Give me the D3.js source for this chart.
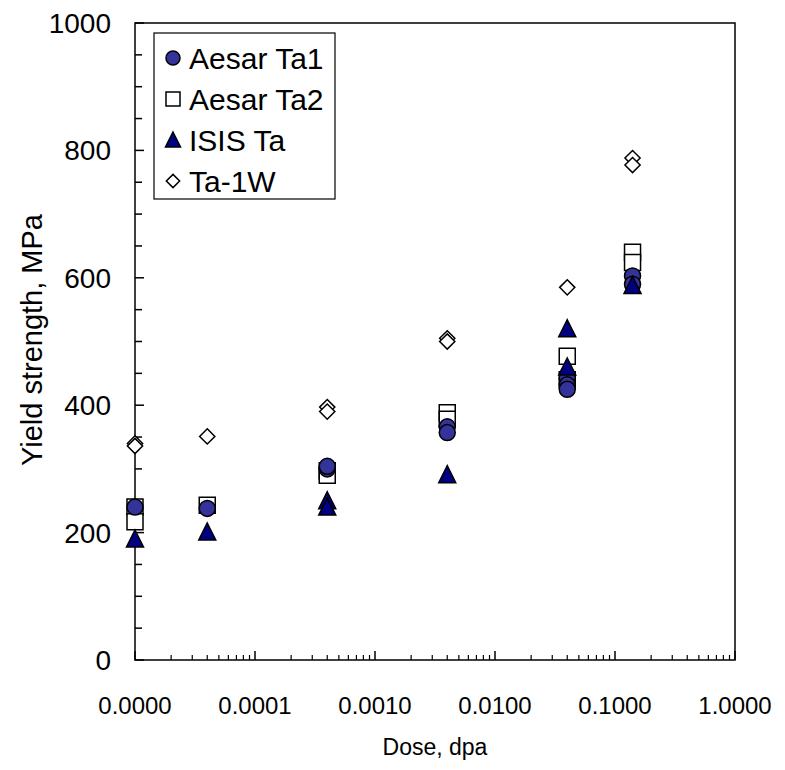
<!DOCTYPE html>
<html>
<head>
<meta charset="utf-8">
<script src="https://cdn.jsdelivr.net/npm/d3@7"></script>
<style>
  html, body { margin: 0; padding: 0; background: #fff; }
  svg { display: block; font-family: "Liberation Sans", Arial, sans-serif; }
</style>
</head>
<body>
<svg id="chart" width="785" height="770"></svg>
<script>
// Dose (dpa); unirradiated specimens are plotted at the 1e-5 axis origin
const aesarTa1Dose = [1e-5, 4e-5, 4e-4, 4e-4, 4e-3, 4e-3, 0.04, 0.04, 0.04, 0.14, 0.14];
const aesarTa1YS   = [240, 238, 300, 304, 366, 357, 442, 432, 425, 603, 590];

const aesarTa2Dose = [1e-5, 1e-5, 4e-5, 4e-4, 4e-4, 4e-3, 4e-3, 0.04, 0.04, 0.14, 0.14];
const aesarTa2YS   = [240, 217, 243, 297, 290, 388, 378, 477, 440, 640, 624];

const isisDose = [1e-5, 4e-5, 4e-4, 4e-4, 4e-3, 0.04, 0.04, 0.14];
const isisYS   = [190, 201, 250, 240, 291, 520, 460, 588];

const ta1wDose = [1e-5, 1e-5, 4e-5, 4e-4, 4e-4, 4e-3, 4e-3, 0.04, 0.14, 0.14];
const ta1wYS   = [340, 336, 351, 397, 390, 505, 500, 585, 788, 777];

const xTickValues = [1e-5, 1e-4, 1e-3, 1e-2, 1e-1, 1];
const xTickLabels = ["0.0000", "0.0001", "0.0010", "0.0100", "0.1000", "1.0000"];
const yTickValues = [0, 200, 400, 600, 800, 1000];

const seriesNames = ["Aesar Ta1", "Aesar Ta2", "ISIS Ta", "Ta-1W"];

const svg = d3.select("#chart");
const margin = { left: 135, right: 50, top: 23, bottom: 110 };
const W = 785, H = 770;

const x = d3.scaleLog().domain([1e-5, 1]).range([margin.left, W - margin.right]);
const y = d3.scaleLinear().domain([0, 1000]).range([H - margin.bottom, margin.top]);

const g = svg.append("g");

// frame
g.append("rect")
  .attr("x", x(1e-5)).attr("y", y(1000))
  .attr("width", x(1) - x(1e-5)).attr("height", y(0) - y(1000))
  .attr("fill", "none").attr("stroke", "#000").attr("stroke-width", 1.5);

// y axis: inward ticks, every 50 minor, labelled every 200
const yMinor = d3.range(0, 1001, 50);
g.selectAll(".ytick").data(yMinor).join("line")
  .attr("x1", x(1e-5)).attr("x2", d => x(1e-5) + (d % 200 === 0 ? 9 : 7))
  .attr("y1", d => y(d)).attr("y2", d => y(d))
  .attr("stroke", "#000").attr("stroke-width", 1.5);

g.selectAll(".ylab").data(yTickValues).join("text")
  .attr("x", 111).attr("y", d => y(d))
  .attr("dy", "0.36em").attr("text-anchor", "end")
  .attr("font-size", 28).attr("fill", "#000")
  .text(d => d);

// x axis: log scale, inward ticks
const xMinor = [];
for (let e = -5; e < 0; e++) {
  for (let m = 2; m <= 9; m++) xMinor.push(m * Math.pow(10, e));
}
g.selectAll(".xminor").data(xMinor).join("line")
  .attr("x1", d => x(d)).attr("x2", d => x(d))
  .attr("y1", y(0)).attr("y2", y(0) - 5)
  .attr("stroke", "#000").attr("stroke-width", 1.2);
g.selectAll(".xmajor").data(xTickValues).join("line")
  .attr("x1", d => x(d)).attr("x2", d => x(d))
  .attr("y1", y(0)).attr("y2", y(0) - 9)
  .attr("stroke", "#000").attr("stroke-width", 1.5);

g.selectAll(".xlab").data(xTickValues).join("text")
  .attr("x", d => x(d)).attr("y", 714)
  .attr("text-anchor", "middle")
  .attr("font-size", 24).attr("fill", "#000")
  .text((d, i) => xTickLabels[i]);

// axis titles
svg.append("text")
  .attr("x", 435).attr("y", 755)
  .attr("text-anchor", "middle").attr("font-size", 23)
  .text("Dose, dpa");
svg.append("text")
  .attr("transform", "translate(42,340) rotate(-90)")
  .attr("text-anchor", "middle").attr("font-size", 29)
  .text("Yield strength, MPa");

// marker shapes
const size = 16;
function markerPath(kind, s) {
  const h = s / 2;
  if (kind === "square") return `M${-h},${-h}H${h}V${h}H${-h}Z`;
  if (kind === "triangle") return `M0,${-h - 1}L${h + 0.5},${h}L${-h - 0.5},${h}Z`;
  if (kind === "diamond") { const d = h * 0.95; return `M0,${-d}L${d},0L0,${d}L${-d},0Z`; }
  return "";
}

const series = [
  { name: seriesNames[0], dose: aesarTa1Dose, ys: aesarTa1YS, kind: "circle",   fill: "#333399" },
  { name: seriesNames[1], dose: aesarTa2Dose, ys: aesarTa2YS, kind: "square",   fill: "#ffffff" },
  { name: seriesNames[2], dose: isisDose,     ys: isisYS,     kind: "triangle", fill: "#000080" },
  { name: seriesNames[3], dose: ta1wDose,     ys: ta1wYS,     kind: "diamond",  fill: "#ffffff" }
];

function drawMarker(sel, kind, fill, s) {
  if (kind === "circle") {
    sel.append("circle").attr("r", s / 2).attr("fill", fill)
      .attr("stroke", "#000").attr("stroke-width", 1.5);
  } else {
    sel.append("path").attr("d", markerPath(kind, s)).attr("fill", fill)
      .attr("stroke", "#000").attr("stroke-width", 1.5);
  }
}

// draw order: squares, circles, triangles, diamonds
const order = [1, 0, 2, 3];
order.forEach(i => {
  const s = series[i];
  const pts = s.dose.map((d, k) => [d, s.ys[k]]);
  g.append("g").selectAll("g").data(pts).join("g")
    .attr("transform", d => `translate(${x(d[0])},${y(d[1])})`)
    .each(function () { drawMarker(d3.select(this), s.kind, s.fill, size); });
});

// legend
const lg = svg.append("g");
lg.append("rect").attr("x", 154).attr("y", 33).attr("width", 181).attr("height", 166)
  .attr("fill", "#fff").attr("stroke", "#000").attr("stroke-width", 1.2);
series.forEach((s, i) => {
  const cy = 58 + i * 41;
  const mg = lg.append("g").attr("transform", `translate(173,${cy})`);
  drawMarker(mg, s.kind, s.fill, 14);
  lg.append("text").attr("x", 189).attr("y", cy).attr("dy", "0.36em")
    .attr("font-size", 30).text(s.name);
});
</script>
</body>
</html>
